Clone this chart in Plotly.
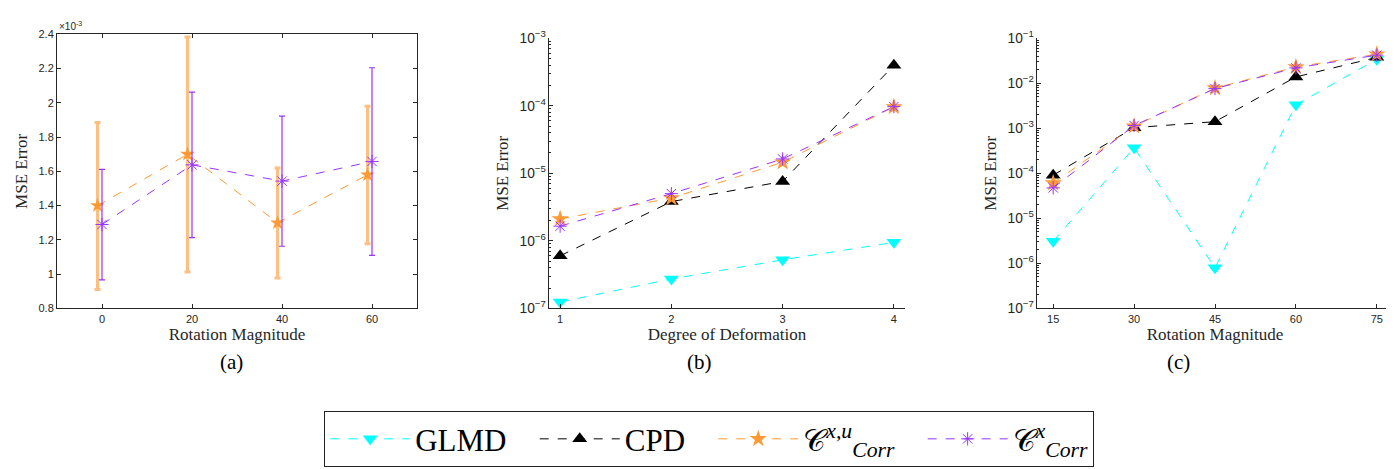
import plotly.graph_objects as go

# ---------------- data ----------------
# (a) rotation magnitude, MSE in units of 1e-3
rot_a = [0, 20, 40, 60]
rot_a_orange = [-1, 19, 39, 59]          # orange series drawn slightly left
corr_xu_a = [1.40, 1.70, 1.30, 1.58]
corr_xu_a_hi = [1.885, 2.385, 1.62, 1.98]
corr_xu_a_lo = [0.91, 1.012, 0.978, 1.178]
corr_x_a = [1.29, 1.638, 1.543, 1.658]
corr_x_a_hi = [1.612, 2.063, 1.923, 2.205]
corr_x_a_lo = [0.967, 1.213, 1.163, 1.11]

# (b) degree of deformation
deg_b = [1, 2, 3, 4]
glmd_b = [1.24e-7, 2.73e-7, 5.24e-7, 9.5e-7]
cpd_b = [6.0e-7, 3.81e-6, 7.57e-6, 3.96e-4]
corr_xu_b = [2.11e-6, 4.3e-6, 1.46e-5, 9.6e-5]
corr_x_b = [1.65e-6, 5.0e-6, 1.63e-5, 9.7e-5]

# (c) rotation magnitude
rot_c = [15, 30, 45, 60, 75]
glmd_c = [3.1e-6, 3.67e-4, 7.97e-7, 3.33e-3, 0.034]
cpd_c = [9.1e-5, 1.03e-3, 1.4e-3, 0.0138, 0.0375]
corr_xu_c = [6.07e-5, 1.11e-3, 7.8e-3, 0.023, 0.044]
corr_x_c = [4.75e-5, 1.15e-3, 7.6e-3, 0.0219, 0.042]

x_ticks_a = [0, 20, 40, 60]
x_ticks_b = [1, 2, 3, 4]
x_ticks_c = [15, 30, 45, 60, 75]

SP = "\u00a0" * 3
names = ["GLMD" + SP, "CPD" + SP,
         "𝒞<sup><i>x,u</i></sup><sub><i>Corr</i></sub>" + SP,
         "𝒞<sup><i>x</i></sup><sub><i>Corr</i></sub>"]

CYAN = "#00FFFF"
BLACK = "#000000"
ORANGE = "#FF9933"
PURPLE = "#9933FF"

SERIF = "Liberation Serif"
SANS = "Liberation Sans"
AX = "#262626"

fig = go.Figure()

def diff(a, b):
    return [x - y for x, y in zip(a, b)]

# ---- panel (a)
fig.add_trace(go.Scatter(
    x=rot_a_orange, y=corr_xu_a, mode="lines+markers", showlegend=False,
    line=dict(color=ORANGE, dash="dash", width=1),
    marker=dict(symbol="star", size=11, color=ORANGE),
    error_y=dict(type="data", symmetric=False,
                 array=diff(corr_xu_a_hi, corr_xu_a),
                 arrayminus=diff(corr_xu_a, corr_xu_a_lo),
                 color="rgba(255,170,90,0.75)", thickness=3, width=3),
    xaxis="x", yaxis="y"))
fig.add_trace(go.Scatter(
    x=rot_a, y=corr_x_a, mode="lines+markers", showlegend=False,
    line=dict(color=PURPLE, dash="dash", width=1),
    marker=dict(symbol="asterisk-open", size=11, color=PURPLE, line=dict(color=PURPLE, width=1)),
    error_y=dict(type="data", symmetric=False,
                 array=diff(corr_x_a_hi, corr_x_a),
                 arrayminus=diff(corr_x_a, corr_x_a_lo),
                 color=PURPLE, thickness=1.2, width=3),
    xaxis="x", yaxis="y"))

# ---- panels (b) and (c)
def series(xs, ys, ax, ay, idx, show):
    styles = [
        dict(line=dict(color=CYAN, dash="dash", width=1),
             marker=dict(symbol="triangle-down", size=13, color=CYAN)),
        dict(line=dict(color=BLACK, dash="dash", width=1),
             marker=dict(symbol="triangle-up", size=13, color=BLACK)),
        dict(line=dict(color=ORANGE, dash="dash", width=1),
             marker=dict(symbol="star", size=13, color=ORANGE)),
        dict(line=dict(color=PURPLE, dash="dash", width=1),
             marker=dict(symbol="asterisk-open", size=11, color=PURPLE,
                         line=dict(color=PURPLE, width=1))),
    ][idx]
    fig.add_trace(go.Scatter(x=xs, y=ys, mode="lines+markers", name=names[idx],
                             showlegend=show, xaxis=ax, yaxis=ay, **styles))

for i, ys in enumerate([glmd_b, cpd_b, corr_xu_b, corr_x_b]):
    series(deg_b, ys, "x2", "y2", i, True)
for i, ys in enumerate([glmd_c, cpd_c, corr_xu_c, corr_x_c]):
    series(rot_c, ys, "x3", "y3", i, False)

H = 469.0
W = 1394.0
def py(p):
    return 1 - p / H
def px(p):
    return p / W

tickfont = dict(family=SANS, size=11, color=AX)
titlefont = dict(family=SERIF, size=17, color=AX)

common_x = dict(showline=True, linecolor=AX, linewidth=1, ticks="inside", ticklen=4,
                tickcolor=AX, tickfont=tickfont, showgrid=False, zeroline=False,
                title_font=titlefont, title_standoff=2)
common_y = dict(showline=True, linecolor=AX, linewidth=1, ticks="inside", ticklen=4,
                tickcolor=AX, tickfont=tickfont, showgrid=False, zeroline=False,
                title_font=titlefont, title_standoff=6)

fig.update_layout(
    width=1394, height=469,
    margin=dict(l=0, r=0, t=0, b=0),
    paper_bgcolor="white", plot_bgcolor="white",
    xaxis=dict(domain=[px(49), px(409)], range=[-10, 70], tickvals=x_ticks_a,
               title_text="Rotation Magnitude", mirror="ticks", anchor="y", **common_x),
    yaxis=dict(domain=[py(302), py(17)], range=[0.8, 2.4], dtick=0.2,
               title_text="MSE Error", mirror="ticks", anchor="x", **common_y),
    xaxis2=dict(domain=[px(541), px(897)], range=[0.9, 4.1], tickvals=x_ticks_b,
                title_text="Degree of Deformation", anchor="y2", **common_x),
    yaxis2=dict(domain=[py(302), py(21)], type="log", range=[-7, -3], dtick=1,
                exponentformat="power", title_text="MSE Error", anchor="x2",
                minor=dict(ticks="inside", ticklen=2, tickcolor=AX, showgrid=False),
                **common_y),
    xaxis3=dict(domain=[px(1029), px(1385)], range=[12, 78], tickvals=x_ticks_c,
                title_text="Rotation Magnitude", anchor="y3", **common_x),
    yaxis3=dict(domain=[py(302), py(21)], type="log", range=[-7, -1], dtick=1,
                exponentformat="power", title_text="MSE Error", anchor="x3",
                minor=dict(ticks="inside", ticklen=2, tickcolor=AX, showgrid=False),
                **common_y),
    legend=dict(orientation="h", x=0.503, y=py(438), xanchor="center", yanchor="middle",
                bordercolor="#222222", borderwidth=1, bgcolor="white",
                font=dict(family=SERIF, size=31, color="black"),
                itemwidth=80, tracegroupgap=0),
    showlegend=True,
)

# multiplier label for panel (a)
fig.add_annotation(x=px(49), y=py(17), xref="paper", yref="paper", xanchor="left",
                   yanchor="bottom", showarrow=False,
                   text="×10<sup>-3</sup>", font=dict(family=SANS, size=10, color=AX))

for lab, cx in [("(a)", 210), ("(b)", 691), ("(c)", 1184)]:
    fig.add_annotation(x=px(cx), y=py(372), xref="paper", yref="paper", showarrow=False,
                       text=lab, font=dict(family=SERIF, size=21, color="black"))

fig.write_html("out.html")
